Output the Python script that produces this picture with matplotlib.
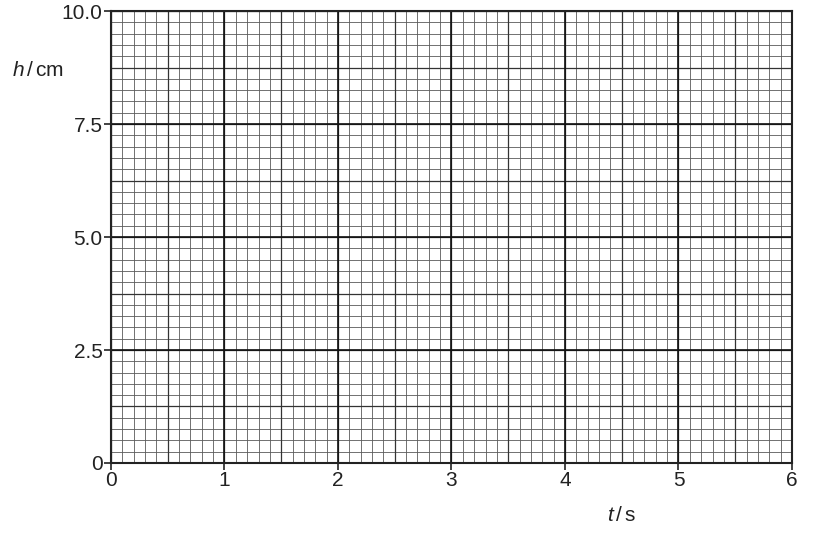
import numpy as np
import matplotlib
matplotlib.use("Agg")
import matplotlib.pyplot as plt

plt.rcParams['font.family'] = ['Liberation Sans', 'DejaVu Sans']
plt.rcParams['mathtext.fontset'] = 'custom'
plt.rcParams['mathtext.rm'] = 'Liberation Sans'
plt.rcParams['mathtext.it'] = 'Liberation Sans:italic'

# axis ranges and grid spacing (graph paper)
t_limits = [0, 6]
h_limits = [0, 10]
t_major = [0, 1, 2, 3, 4, 5, 6]
h_major = [0, 2.5, 5.0, 7.5, 10.0]
h_labels = ['0', '2.5', '5.0', '7.5', '10.0']
t_minor_step = 0.1
t_mid_step = 0.5
h_minor_step = 0.25
h_mid_step = 1.25

fig = plt.figure(figsize=(8.22, 5.40), dpi=100)
ax = fig.add_axes([0.135, 0.1426, 0.8285, 0.837])

ax.set_xlim(t_limits)
ax.set_ylim(h_limits)

# minor lines
for x in np.arange(t_limits[0], t_limits[1] + 1e-9, t_minor_step):
    ax.axvline(x, color='#5a5a5a', lw=0.6, zorder=1)
for y in np.arange(h_limits[0], h_limits[1] + 1e-9, h_minor_step):
    ax.axhline(y, color='#5a5a5a', lw=0.6, zorder=1)
# mid lines
for x in np.arange(t_limits[0], t_limits[1] + 1e-9, t_mid_step):
    ax.axvline(x, color='#333333', lw=0.9, zorder=2)
for y in np.arange(h_limits[0], h_limits[1] + 1e-9, h_mid_step):
    ax.axhline(y, color='#333333', lw=0.9, zorder=2)
# major lines
for x in t_major:
    ax.axvline(x, color='#111111', lw=1.2, zorder=3)
for y in h_major:
    ax.axhline(y, color='#111111', lw=1.2, zorder=3)

for s in ax.spines.values():
    s.set_linewidth(1.5)
    s.set_color('#222222')
    s.set_zorder(4)

ax.set_xticks(t_major)
ax.set_xticklabels([str(v) for v in t_major])
ax.set_yticks(h_major)
ax.set_yticklabels(h_labels)
ax.tick_params(direction='out', length=5, width=1.2, labelsize=15,
               colors='#222222', pad=1)

fig.text(0.015, 0.87, r'$h\,/\,\mathrm{cm}$', fontsize=15, color='#222222',
         ha='left', va='center')
fig.text(0.738, 0.046, r'$t\,/\,\mathrm{s}$', fontsize=15, color='#222222',
         ha='left', va='center')

fig.savefig('out.png', dpi=100)
